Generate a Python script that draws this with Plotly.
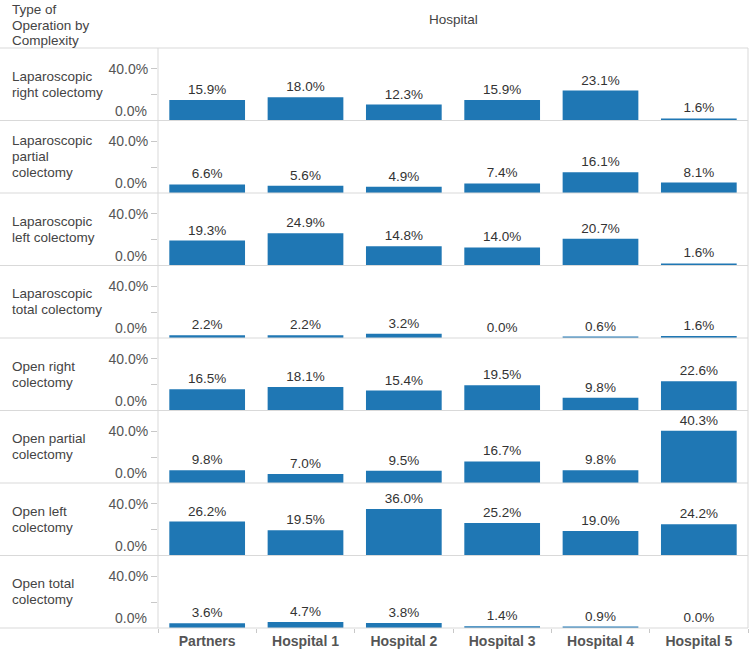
import plotly.graph_objects as go
from plotly.subplots import make_subplots

hospitals = ["Partners", "Hospital 1", "Hospital 2", "Hospital 3", "Hospital 4", "Hospital 5"]

row_labels = [
    ["Laparoscopic", "right colectomy"],
    ["Laparoscopic", "partial", "colectomy"],
    ["Laparoscopic", "left colectomy"],
    ["Laparoscopic", "total colectomy"],
    ["Open right", "colectomy"],
    ["Open partial", "colectomy"],
    ["Open left", "colectomy"],
    ["Open total", "colectomy"],
]

lap_right = [15.9, 18.0, 12.3, 15.9, 23.1, 1.6]
lap_partial = [6.6, 5.6, 4.9, 7.4, 16.1, 8.1]
lap_left = [19.3, 24.9, 14.8, 14.0, 20.7, 1.6]
lap_total = [2.2, 2.2, 3.2, 0.0, 0.6, 1.6]
open_right = [16.5, 18.1, 15.4, 19.5, 9.8, 22.6]
open_partial = [9.8, 7.0, 9.5, 16.7, 9.8, 40.3]
open_left = [26.2, 19.5, 36.0, 25.2, 19.0, 24.2]
open_total = [3.6, 4.7, 3.8, 1.4, 0.9, 0.0]

series = [lap_right, lap_partial, lap_left, lap_total,
          open_right, open_partial, open_left, open_total]

header_lines = ["Type of", "Operation by", "Complexity"]
col_header = "Hospital"

W, H = 750, 652
ML, MR, MT, MB = 158, 2, 48, 24
PW = W - ML - MR
PH = H - MT - MB
N = len(series)

FONT = "Arial, Liberation Sans, sans-serif"
LINE = "#d9d9d9"
BLUE = "#1f77b4"

fig = make_subplots(rows=N, cols=1, shared_xaxes=True, vertical_spacing=0)

for i, vals in enumerate(series):
    fig.add_trace(go.Bar(
        x=hospitals, y=vals,
        marker=dict(color=BLUE, line=dict(width=0)),
        text=[f"{v:.1f}%" for v in vals],
        textposition="outside",
        textfont=dict(family=FONT, size=13.5, color="#333333"),
        cliponaxis=False,
        constraintext="none",
        showlegend=False,
        hoverinfo="skip",
    ), row=i + 1, col=1)

for i in range(N):
    fig.update_yaxes(
        range=[0, 56], tickvals=[20, 40], ticktext=["", "40.0%"],
        ticks="outside", ticklen=6, tickcolor="#c8c8c8",
        tickfont=dict(family=FONT, size=14, color="#555555"),
        showgrid=False, zeroline=False, showline=False, fixedrange=True,
        row=i + 1, col=1)
    fig.update_xaxes(
        type="category", showgrid=False, zeroline=False, showline=False,
        showticklabels=(i == N - 1), ticks=("outside" if i == N - 1 else ""),
        tickson="boundaries", ticklen=4, tickcolor="#c8c8c8",
        ticklabelstandoff=3,
        tickfont=dict(family=FONT, size=14, color="#555555", weight="bold"),
        fixedrange=True, row=i + 1, col=1)

annotations = []
px = lambda p: p / PW
py = lambda p: 1 + (MT - p) / PH

for i, lines in enumerate(row_labels):
    yref = "y domain" if i == 0 else f"y{i + 1} domain"
    axref = "y" if i == 0 else f"y{i + 1}"
    n = len(lines)
    for j, ln in enumerate(lines):
        annotations.append(dict(
            text=ln, xref="paper", x=px(10 - ML), xanchor="left",
            yref=yref, y=0.5, yanchor="middle",
            yshift=(n - 1) / 2 * 16 - j * 16,
            showarrow=False, font=dict(family=FONT, size=13.5, color="#444444")))
    annotations.append(dict(
        text="0.0%", xref="paper", x=px(-9), xanchor="right",
        yref=axref, y=0, yanchor="bottom",
        showarrow=False, font=dict(family=FONT, size=14, color="#555555")))

for j, ln in enumerate(header_lines):
    annotations.append(dict(
        text=ln, xref="paper", x=px(10 - ML), xanchor="left",
        yref="paper", y=py(9.5 + j * 15.7), yanchor="middle",
        showarrow=False, font=dict(family=FONT, size=13.5, color="#444444")))

annotations.append(dict(
    text=col_header, xref="paper", x=0.5, xanchor="center",
    yref="paper", y=py(20), yanchor="middle",
    showarrow=False, font=dict(family=FONT, size=13.5, color="#444444")))

shapes = []
for k in range(N + 1):
    shapes.append(dict(type="line", xref="paper", yref="paper",
                       x0=px(-ML), x1=1, y0=k / N, y1=k / N,
                       line=dict(color=LINE, width=1)))
for xx in (0, 1):
    shapes.append(dict(type="line", xref="paper", yref="paper",
                       x0=xx, x1=xx, y0=0, y1=1,
                       line=dict(color=LINE, width=1)))

fig.update_layout(
    width=W, height=H,
    margin=dict(l=ML, r=MR, t=MT, b=MB),
    paper_bgcolor="white", plot_bgcolor="white",
    bargap=0.23,
    annotations=annotations, shapes=shapes,
    font=dict(family=FONT),
)

fig.write_html("out.html",
               config={"displayModeBar": False},
               post_script="document.body.style.margin='0';document.body.style.overflow='hidden';")
